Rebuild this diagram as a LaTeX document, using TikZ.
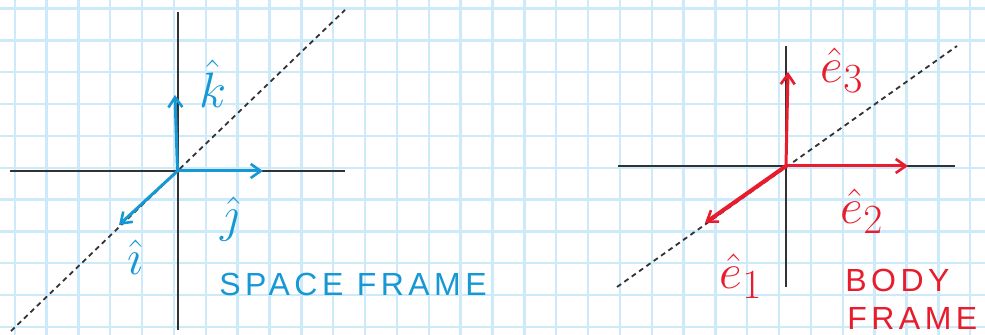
\documentclass[tikz,border=0pt]{standalone}
\usepackage{fontspec}
\setmainfont{Liberation Sans}
\usetikzlibrary{arrows.meta}
\definecolor{gridblue}{RGB}{204,234,250}
\definecolor{penblue}{RGB}{22,152,212}
\definecolor{penred}{RGB}{232,28,44}
\definecolor{axisgray}{RGB}{50,50,50}

\begin{document}
\begin{tikzpicture}[x=0.5pt,y=-0.5pt,
   gridline/.style={gridblue,line width=1.2pt},
   axisline/.style={axisgray,line width=1pt},
   diagline/.style={axisgray,line width=0.9pt,dash pattern=on 2.5pt off 2pt},
   vec/.style={line width=1.5pt,line cap=round,
               -{Straight Barb[length=5pt,width=7pt,line width=1.3pt]}},
   lbl/.style={font=\fontsize{24.88}{28}\selectfont,inner sep=0pt},
   frametxt/.style={font=\fontsize{16}{18}\selectfont\addfontfeature{LetterSpace=14},
                    inner sep=0pt,anchor=west}]
  \useasboundingbox (0,0) rectangle (985,335);
  \fill[white] (0,0) rectangle (985,335);
  % paper grid
  \foreach \i in {0,...,30}
    \draw[gridline] ({14.7+31.85*\i},0) -- ({14.7+31.85*\i},335);
  \foreach \j in {0,...,10}
    \draw[gridline] (0,{8.5+31.85*\j}) -- (985,{8.5+31.85*\j});

  % space frame
  \coordinate (so) at (177.5,171);
  \coordinate (sxl) at (10,171);
  \coordinate (sxr) at (345,171);
  \coordinate (syt) at (177.5,12);
  \coordinate (syb) at (177.5,330);
  \coordinate (sdl) at (11,331);
  \coordinate (sdr) at (345,10);
  \draw[axisline] (sxl) -- (sxr);
  \draw[axisline] (syt) -- (syb);
  \draw[diagline] (sdl) -- (sdr);
  \coordinate (si) at (119,225);
  \coordinate (sj) at (263,171);
  \coordinate (sk) at (175,95);
  \draw[vec,penblue] (so) -- (si);
  \draw[vec,penblue] (so) -- (sj);
  \draw[vec,penblue] (so) -- (sk);
  \node[lbl,penblue] (klbl) at (213,84) {$\hat{k}$};
  \node[lbl,penblue] (jlbl) at (230,219) {$\hat{\jmath}$};
  \node[lbl,penblue] (ilbl) at (135,257) {$\hat{\imath}$};
  \node[frametxt,penblue] (space) at (219,284) {SPACE FRAME};

  % body frame
  \coordinate (bo) at (786,166);
  \coordinate (bxl) at (618,166);
  \coordinate (bxr) at (955,166);
  \coordinate (byt) at (786,46);
  \coordinate (byb) at (786,287);
  \coordinate (bdl) at (617,287);
  \coordinate (bdr) at (957,46);
  \draw[axisline] (bxl) -- (bxr);
  \draw[axisline] (byt) -- (byb);
  \draw[diagline] (bdl) -- (bdr);
  \coordinate (be1) at (705,223);
  \coordinate (be2) at (908,166);
  \coordinate (be3) at (788,72);
  \draw[vec,penred,line width=2pt] (bo) -- (be1);
  \draw[vec,penred] (bo) -- (be2);
  \draw[vec,penred] (bo) -- (be3);
  \node[lbl,penred] (e3lbl) at (842,70) {$\hat{e}_3$};
  \node[lbl,penred] (e2lbl) at (862,211) {$\hat{e}_2$};
  \node[lbl,penred] (e1lbl) at (741,276) {$\hat{e}_1$};
  \node[frametxt,penred] (body) at (845,280) {BODY};
  \node[frametxt,penred] (frame) at (847,318) {FRAME};
\end{tikzpicture}
\end{document}
